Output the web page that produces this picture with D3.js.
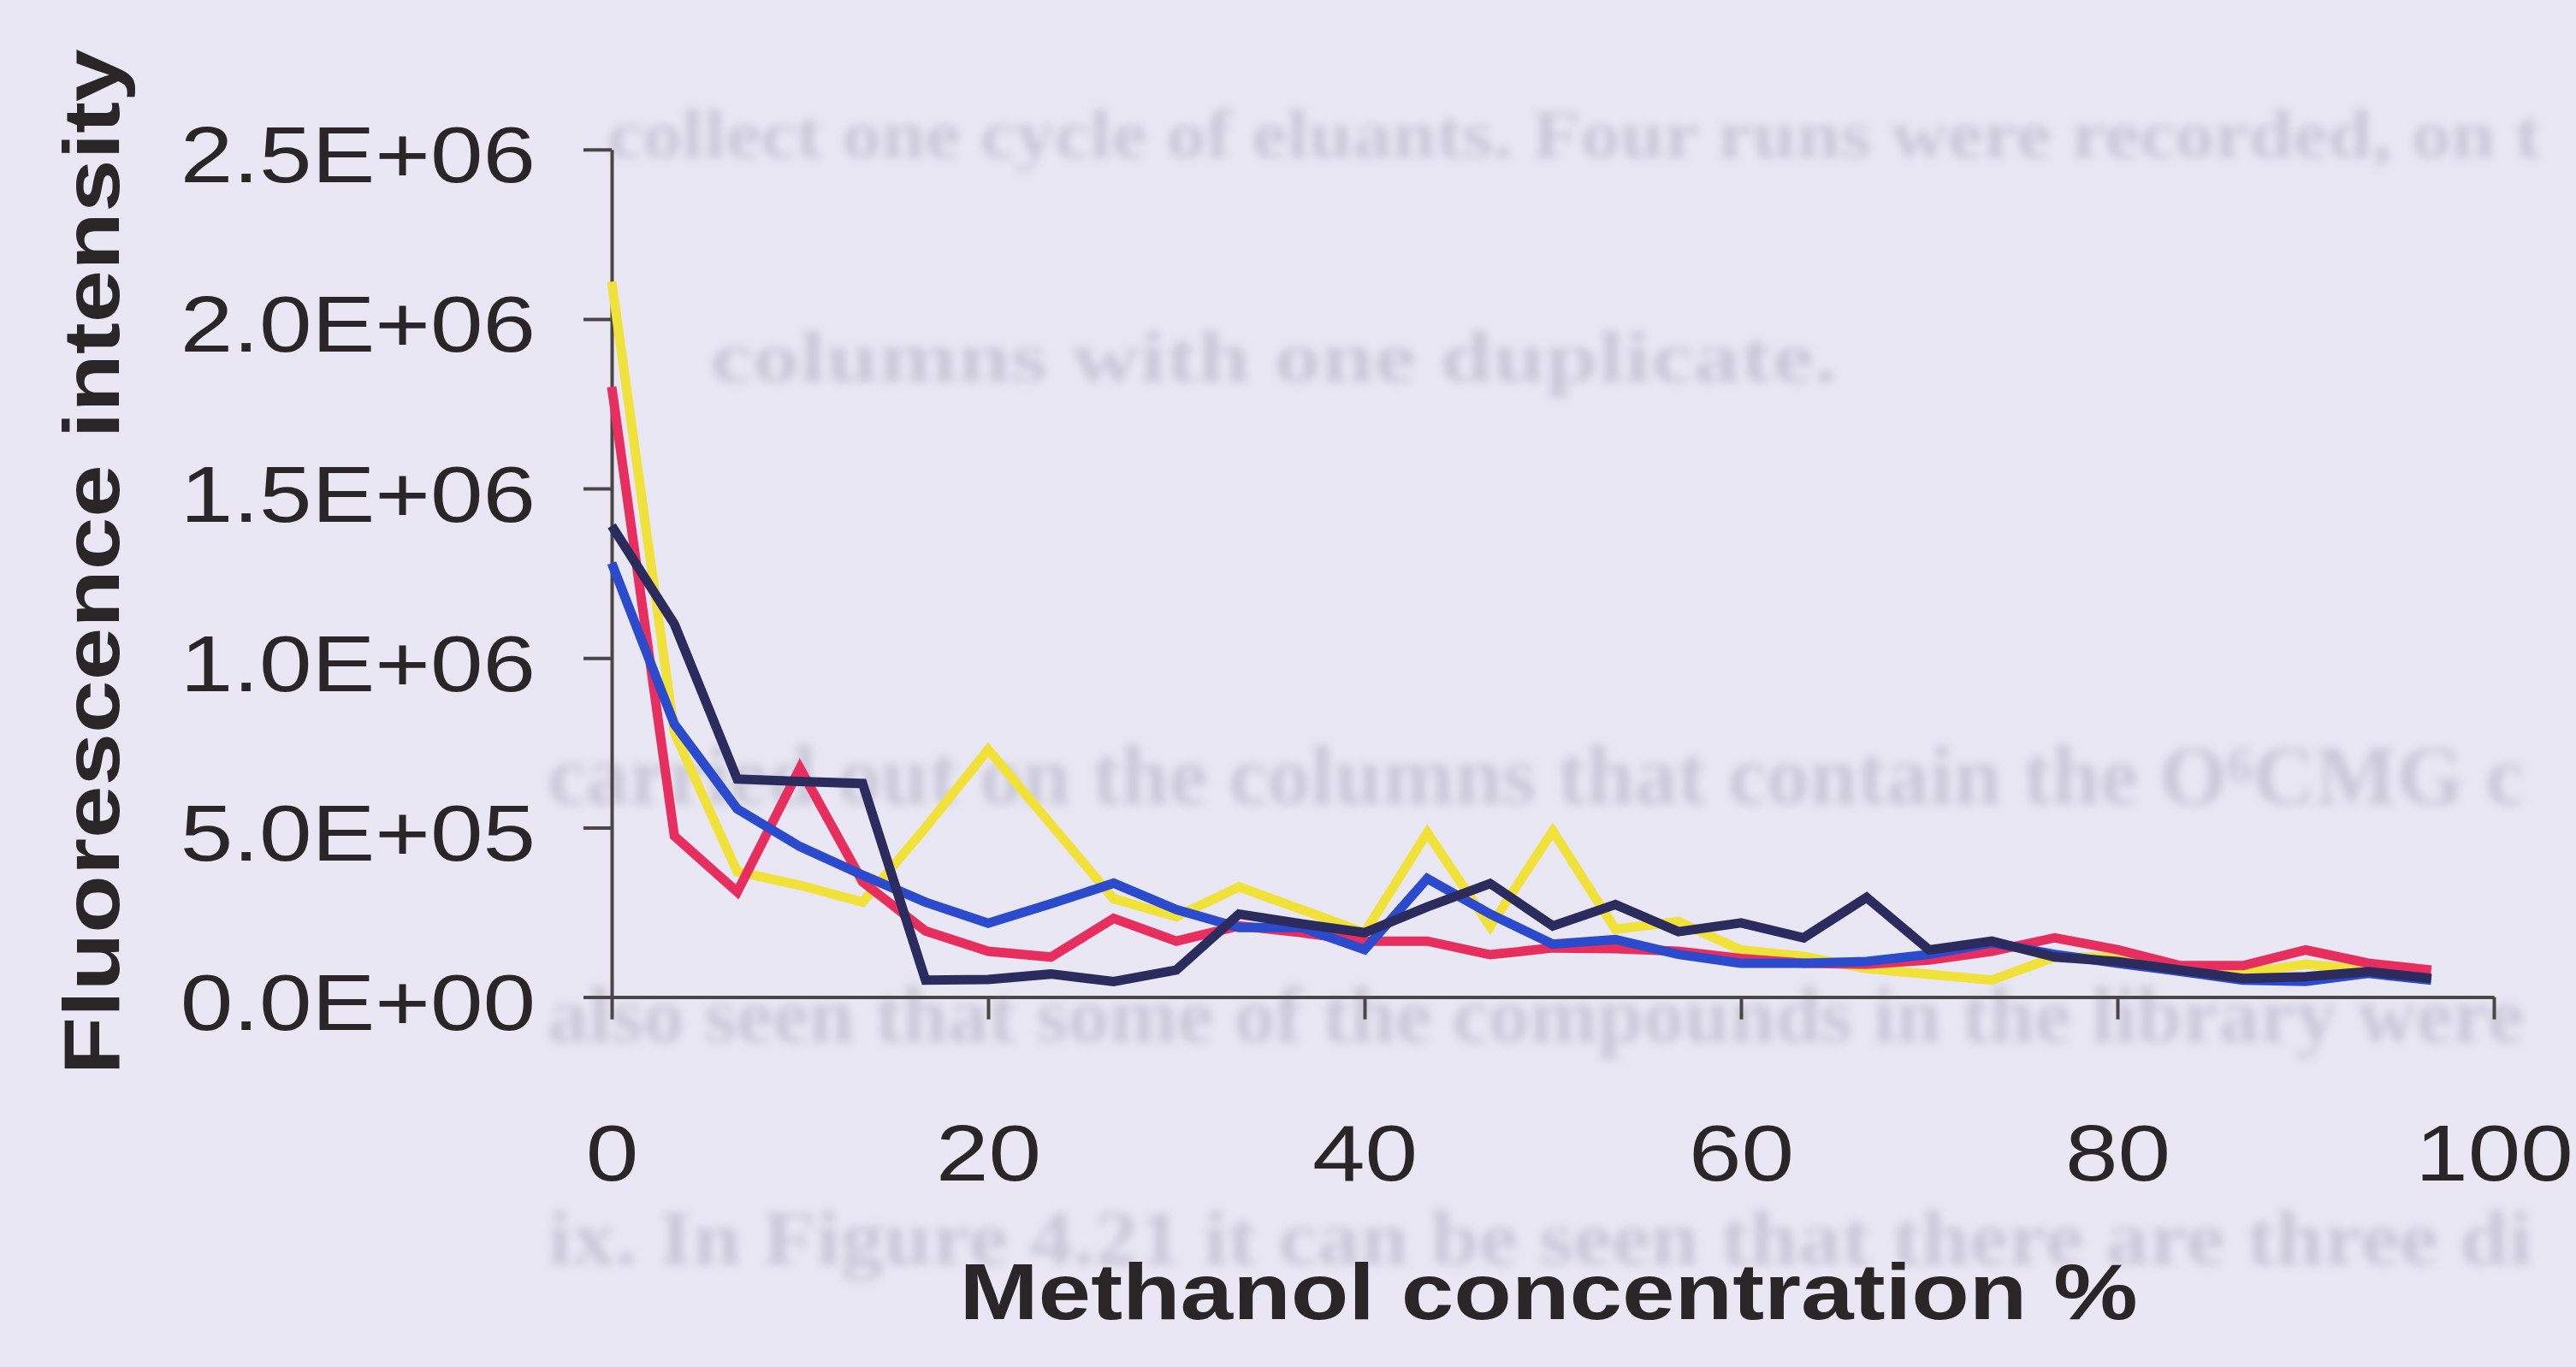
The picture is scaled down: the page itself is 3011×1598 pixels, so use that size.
<!DOCTYPE html>
<html>
<head>
<meta charset="utf-8">
<script src="https://cdn.jsdelivr.net/npm/d3@7"></script>
<style>
  html, body { margin: 0; padding: 0; background: #e9e7f3; }
  svg { display: block; }
</style>
</head>
<body>
<svg id="chart" width="3011" height="1598"></svg>
<script>
// ---------- DATA ----------
const methanol = [0, 3.33, 6.67, 10, 13.33, 16.67, 20, 23.33, 26.67, 30,
  33.33, 36.67, 40, 43.33, 46.67, 50, 53.33, 56.67, 60, 63.33,
  66.67, 70, 73.33, 76.67, 80, 83.33, 86.67, 90, 93.33, 96.67];

const runYellow = [2.11e6, 0.78e6, 0.37e6, 0.33e6, 0.28e6, 0.50e6, 0.73e6, 0.51e6, 0.29e6, 0.237e6,
  0.325e6, 0.258e6, 0.19e6, 0.485e6, 0.208e6, 0.49e6, 0.20e6, 0.223e6, 0.139e6, 0.12e6,
  0.084e6, 0.067e6, 0.05e6, 0.118e6, 0.118e6, 0.084e6, 0.07e6, 0.097e6, 0.08e6, 0.07e6];

const runRed = [1.80e6, 0.475e6, 0.31e6, 0.675e6, 0.34e6, 0.195e6, 0.135e6, 0.118e6, 0.232e6, 0.165e6,
  0.21e6, 0.19e6, 0.165e6, 0.165e6, 0.125e6, 0.145e6, 0.143e6, 0.135e6, 0.114e6, 0.10e6,
  0.097e6, 0.109e6, 0.135e6, 0.175e6, 0.14e6, 0.093e6, 0.093e6, 0.139e6, 0.10e6, 0.08e6];

const runBlue = [1.28e6, 0.805e6, 0.555e6, 0.444e6, 0.36e6, 0.28e6, 0.218e6, 0.275e6, 0.336e6, 0.258e6,
  0.205e6, 0.205e6, 0.14e6, 0.35e6, 0.245e6, 0.156e6, 0.17e6, 0.126e6, 0.10e6, 0.10e6,
  0.105e6, 0.126e6, 0.16e6, 0.126e6, 0.10e6, 0.076e6, 0.05e6, 0.046e6, 0.07e6, 0.05e6];

const runNavy = [1.39e6, 1.10e6, 0.643e6, 0.636e6, 0.63e6, 0.05e6, 0.052e6, 0.068e6, 0.046e6, 0.08e6,
  0.245e6, 0.216e6, 0.19e6, 0.266e6, 0.335e6, 0.21e6, 0.273e6, 0.193e6, 0.219e6, 0.175e6,
  0.294e6, 0.139e6, 0.165e6, 0.118e6, 0.105e6, 0.08e6, 0.055e6, 0.06e6, 0.075e6, 0.055e6];

const yTickValues = [0, 5e5, 1e6, 1.5e6, 2e6, 2.5e6];
const yTickLabels = ["0.0E+00", "5.0E+05", "1.0E+06", "1.5E+06", "2.0E+06", "2.5E+06"];
const xTickValues = [0, 20, 40, 60, 80, 100];
const xTickLabels = ["0", "20", "40", "60", "80", "100"];

const xTitle = "Methanol concentration %";
const yTitle = "Fluorescence intensity";

// faint show-through text from the scanned page behind the chart
const pageLines = [
  "collect one cycle of eluants.  Four runs were recorded, on t",
  "columns with one duplicate.",
  "carried out on the columns that contain the O\u2076CMG c",
  "also seen that some of the compounds in the library were",
  "ix. In Figure 4.21 it can be seen that there are three di"
];

// ---------- LAYOUT ----------
const svg = d3.select("#chart");
const W = 3011, H = 1598;
const stretch = 1.19;
const font = "'Liberation Sans', Arial, Helvetica, sans-serif";
const ink = "#2a2526";

svg.append("rect").attr("width", W).attr("height", H).attr("fill", "#e9e7f3");

const defs = svg.append("defs");
defs.append("filter").attr("id", "blur")
  .attr("x", "-5%").attr("y", "-50%").attr("width", "110%").attr("height", "200%")
  .append("feGaussianBlur").attr("stdDeviation", 5.5);

// background page text
const pageSpec = [
  {x: 710, y: 184, size: 80, len: 2260},
  {x: 830, y: 446, size: 84, len: 1318},
  {x: 640, y: 940, size: 100, len: 2310},
  {x: 640, y: 1218, size: 94, len: 2310},
  {x: 640, y: 1478, size: 90, len: 2320}
];
const bg = svg.append("g").attr("filter", "url(#blur)");
pageLines.forEach((t, i) => {
  const s = pageSpec[i];
  bg.append("text")
    .attr("x", s.x).attr("y", s.y)
    .attr("font-family", "'Liberation Serif', 'Times New Roman', serif")
    .attr("font-weight", "bold")
    .attr("font-size", s.size)
    .attr("fill", "#cac8d7")
    .attr("textLength", s.len)
    .attr("lengthAdjust", "spacingAndGlyphs")
    .text(t);
});

// scales
const x = d3.scaleLinear().domain([0, 100]).range([715, 2915]);
const y = d3.scaleLinear().domain([0, 2.5e6]).range([1165.6, 174.7]);

// axes
const yAxis = svg.append("g").attr("transform", `translate(${x(0)},0)`)
  .call(d3.axisLeft(y).tickValues(yTickValues).tickSize(33).tickSizeOuter(0)
    .tickFormat((d, i) => yTickLabels[i]));
const xAxis = svg.append("g").attr("transform", `translate(0,${y(0)})`)
  .call(d3.axisBottom(x).tickValues(xTickValues).tickSize(26).tickSizeOuter(0)
    .tickFormat((d, i) => xTickLabels[i]));

[yAxis, xAxis].forEach(g => {
  g.select(".domain").attr("stroke", "#4b4548").attr("stroke-width", 4);
  g.selectAll(".tick line").attr("stroke", "#4b4548").attr("stroke-width", 4);
  g.selectAll(".tick text")
    .attr("fill", ink)
    .attr("font-family", font)
    .attr("font-size", 93)
    .attr("dy", null).attr("x", 0).attr("y", 0);
});
yAxis.selectAll(".tick text")
  .attr("text-anchor", "end")
  .attr("transform", `translate(-89,38) scale(${stretch},1)`);
xAxis.selectAll(".tick text")
  .attr("text-anchor", "middle")
  .attr("transform", `translate(0,214) scale(${stretch},1)`);

// lines
const series = [
  {values: runYellow, color: "#f0e23a"},
  {values: runRed, color: "#e62f5f"},
  {values: runBlue, color: "#2b4bcc"},
  {values: runNavy, color: "#2c2b5e"}
];
const line = d3.line()
  .x((d, i) => x(methanol[i]))
  .y(d => y(d));
svg.append("g").selectAll("path").data(series).join("path")
  .attr("d", s => line(s.values))
  .attr("fill", "none")
  .attr("stroke", s => s.color)
  .attr("stroke-width", 11)
  .attr("stroke-linejoin", "miter")
  .attr("stroke-miterlimit", 3);

// titles
svg.append("text")
  .attr("transform", `translate(1810,1542) scale(${stretch},1)`)
  .attr("text-anchor", "middle")
  .attr("font-family", font).attr("font-weight", "bold")
  .attr("font-size", 93).attr("fill", ink)
  .text(xTitle);

svg.append("text")
  .attr("transform", `translate(139,657) rotate(-90) scale(${stretch},1)`)
  .attr("text-anchor", "middle")
  .attr("font-family", font).attr("font-weight", "bold")
  .attr("font-size", 93).attr("fill", ink)
  .text(yTitle);
</script>
</body>
</html>
